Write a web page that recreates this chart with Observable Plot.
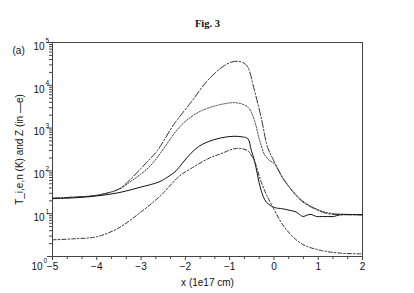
<!DOCTYPE html>
<html>
<head>
<meta charset="utf-8">
<script src="https://cdn.jsdelivr.net/npm/d3@7"></script>
<script src="https://cdn.jsdelivr.net/npm/@observablehq/plot@0.6"></script>
<style>
  html, body { margin: 0; padding: 0; background: #fff; }
  #chart svg { display: block; }
</style>
</head>
<body>
<div id="chart"></div>
<script>
// Curve A: long dash-dot (highest peak)
const xA = [-5, -4.5, -4, -3.5, -3.25, -3, -2.78, -2.63, -2.25, -1.87, -1.5, -1.12, -0.95, -0.82, -0.7, -0.59, -0.44, -0.29, -0.14, 0, 0.24, 0.62, 0.92, 1.22, 1.6, 2];
const yA = [23, 24.5, 27, 38, 62, 115, 200, 300, 1260, 4030, 12900, 28900, 35000, 36400, 34000, 26500, 7600, 1800, 350, 170, 60, 20, 13, 10, 9.5, 9.4];
// Curve B: dotted
const xB = [-5, -4.5, -4, -3.5, -3.25, -3, -2.78, -2.5, -2.25, -2.03, -1.75, -1.5, -1.12, -0.85, -0.59, -0.44, -0.33, -0.21, -0.1, 0, 0.24, 0.62, 0.92, 1.22, 1.6, 2];
const yB = [23, 24.5, 27, 37, 55, 85, 135, 320, 750, 1350, 2200, 2900, 3700, 3900, 3100, 1500, 550, 240, 175, 150, 58, 21, 13.5, 10.5, 9.7, 9.5];
// Curve C: solid
const xC = [-5, -4.5, -4, -3.5, -3, -2.6, -2.4, -2.21, -2.05, -1.87, -1.7, -1.53, -1.2, -0.9, -0.7, -0.59, -0.51, -0.44, -0.37, -0.29, -0.17, 0.01, 0.2, 0.39, 0.5, 0.58, 0.66, 0.75, 0.84, 0.96, 1.1, 1.34, 1.5, 2];
const yC = [22.5, 23.5, 26, 31, 42, 55, 72, 100, 160, 260, 370, 460, 590, 645, 620, 570, 300, 175, 80, 35, 18.6, 14, 13, 11.8, 11, 9.5, 8.6, 9.3, 9.6, 8.6, 8.6, 8.6, 9.4, 9.4];
// Curve D: dash-dot (lowest)
const xD = [-5, -4.5, -4, -3.53, -3, -2.55, -2.14, -1.87, -1.5, -1.19, -0.85, -0.6, -0.5, -0.42, -0.3, -0.17, -0.02, 0.24, 0.62, 1.07, 1.5, 1.98];
const yD = [2.45, 2.6, 2.9, 4.5, 11, 27, 75, 114, 190, 254, 335, 300, 220, 150, 60, 28, 14, 4.8, 2.0, 1.38, 1.2, 1.15];

const xMajorTicks = [-5, -4, -3, -2, -1, 0, 1, 2];
const xTickLabels = ["\u22125", "\u22124", "\u22123", "\u22122", "\u22121", "0", "1", "2"];
const yMajorTicks = [1, 10, 100, 1000, 10000, 100000];
const yUpperTicks = [10, 100, 1000, 10000, 100000];
const yUpperExponents = ["1", "2", "3", "4", "5"];

const xMinorTicks = [];
for (let i = -5; i < 2; i++) { xMinorTicks.push(i + 1/3, i + 2/3); }
const yMinorTicks = [];
for (let e = 0; e < 5; e++) for (let k = 2; k <= 9; k++) yMinorTicks.push(k * Math.pow(10, e));

const toRows = (xs, ys) => xs.map((x, i) => ({x, y: ys[i]}));
const A = toRows(xA, yA), B = toRows(xB, yB), C = toRows(xC, yC), D = toRows(xD, yD);

const font = "Liberation Sans, Arial, Helvetica, sans-serif";
const line = (data, dash, color) => Plot.line(data, {x: "x", y: "y", curve: "catmull-rom", stroke: color, strokeWidth: 1, strokeDasharray: dash});

const chart = Plot.plot({
  width: 414,
  height: 293,
  marginLeft: 52,
  marginRight: 52,
  marginTop: 42,
  marginBottom: 37,
  style: {fontFamily: font, fontSize: "10px", color: "#111", background: "#fff"},
  x: {domain: [-5, 2]},
  y: {type: "log", domain: [1, 100000]},
  marks: [
    Plot.axisX({ticks: xMajorTicks, tickSize: 4, tickFormat: () => "", stroke: "#444", label: null}),
    Plot.axisX({ticks: xMinorTicks, tickSize: 3, tickFormat: () => "", stroke: "#444", label: null}),
    Plot.axisY({ticks: yMajorTicks, tickSize: 5, tickFormat: () => "", stroke: "#444", label: null}),
    Plot.axisY({ticks: yMinorTicks, tickSize: 3, tickFormat: () => "", stroke: "#444", label: null}),
    Plot.frame({stroke: "#444"}),
    line(A, "7,2,1.5,2", "#333"),
    line(B, "1.5,1.5", "#444"),
    line(C, null, "#111"),
    line(D, "4,2,1.5,2", "#333"),
    Plot.text(xMajorTicks, {x: d => d, frameAnchor: "bottom", dy: 13, text: (d, i) => xTickLabels[i], fontSize: 10, fill: "#111", textAnchor: "middle"}),
    Plot.text(yUpperTicks, {y: d => d, frameAnchor: "left", dx: -8, dy: 4, text: () => "10", fontSize: 10, fill: "#111", textAnchor: "end"}),
    Plot.text(yUpperTicks, {y: d => d, frameAnchor: "left", dx: -7, dy: -2, text: (d, i) => yUpperExponents[i], fontSize: 6.5, fill: "#111", textAnchor: "start"}),
    Plot.text([1], {y: d => d, frameAnchor: "left", dx: -10, dy: 10, text: () => "10", fontSize: 10, fill: "#111", textAnchor: "end"}),
    Plot.text([1], {y: d => d, frameAnchor: "left", dx: -9, dy: 4, text: () => "0", fontSize: 6.5, fill: "#111", textAnchor: "start"}),
    Plot.text(["x (1e17 cm)"], {frameAnchor: "bottom", dy: 29, fontSize: 10, fill: "#111", textAnchor: "middle"}),
    Plot.text(["T_i,e,n (K) and Z (in \u2014e)"], {frameAnchor: "left", dx: -33, rotate: -90, fontSize: 10, fill: "#111", textAnchor: "middle"}),
    Plot.text(["Fig. 3"], {frameAnchor: "top", dy: -23, fontSize: 10.5, fontWeight: "bold", fontFamily: "Liberation Serif, Times New Roman, serif", fill: "#111", textAnchor: "middle"}),
    Plot.text(["(a)"], {frameAnchor: "top-left", dx: -40, dy: 4, fontSize: 10, fill: "#111", textAnchor: "start"})
  ]
});
document.getElementById("chart").appendChild(chart);
</script>
</body>
</html>
